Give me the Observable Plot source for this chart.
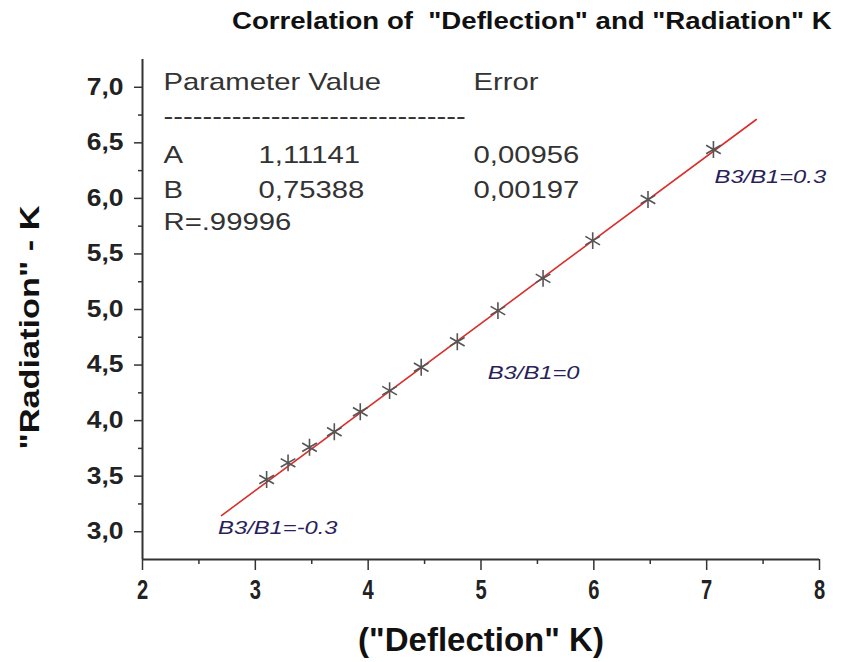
<!DOCTYPE html>
<html>
<head>
<meta charset="utf-8">
<script src="https://cdn.jsdelivr.net/npm/d3@7"></script>
<script src="https://cdn.jsdelivr.net/npm/@observablehq/plot@0.6"></script>
<style>
  body { margin: 0; background: #fff; }
  #wrap { width: 858px; height: 662px; position: relative; overflow: hidden; }
  #title { position: absolute; left: 232px; top: 7px; transform: scaleX(1.15); transform-origin: left center;
           font-family: "Liberation Sans", Arial, sans-serif; font-weight: bold; font-size: 24px; color: #111; white-space: pre; }
  #chart { position: absolute; left: 0; top: 44px; }
</style>
</head>
<body>
<div id="wrap">
  <div id="title">Correlation of  "Deflection" and "Radiation" K</div>
  <div id="chart"></div>
</div>
<script>
// Measured data points (Deflection K, Radiation K)
const deflection = [3.10, 3.29, 3.48, 3.70, 3.93, 4.19, 4.47, 4.79, 5.15, 5.55, 5.99, 6.48, 7.06];
const radiation  = [3.47, 3.62, 3.76, 3.90, 4.08, 4.27, 4.48, 4.71, 4.99, 5.28, 5.62, 5.99, 6.44];
// Linear fit line end points
const fitX = [2.70, 7.44];
const fitY = [3.145, 6.71];
// Fit table text
const tableHeader = ["Parameter Value", "Error"];
const tableRule = "-------------------------------";
const paramNames = ["A", "B"];
const paramValues = ["1,11141", "0,75388"];
const paramErrors = ["0,00956", "0,00197"];
const rText = "R=.99996";
// Annotations
const annLabels = ["B3/B1=0.3", "B3/B1=0", "B3/B1=-0.3"];
const annX = [7.07, 5.06, 2.67];
const annY = [6.19, 4.43, 3.03];
// Ticks
const xTicks = [2, 3, 4, 5, 6, 7, 8];
const xMinor = [2.5, 3.5, 4.5, 5.5, 6.5, 7.5];
const yTicks = [3.0, 3.5, 4.0, 4.5, 5.0, 5.5, 6.0, 6.5, 7.0];
const yMinor = [3.25, 3.75, 4.25, 4.75, 5.25, 5.75, 6.25, 6.75];

const points = deflection.map((d, i) => ({x: d, y: radiation[i]}));
const fit = fitX.map((d, i) => ({x: d, y: fitY[i]}));
const anns = annLabels.map((t, i) => ({t, x: annX[i], y: annY[i]}));

const textFont = `"Liberation Sans", Arial, sans-serif`;
const fmtY = d => d.toFixed(1).replace(".", ",");

// table rows: [text, dx, dy]
const tableItems = [
  [tableHeader[0], 21, 23], [tableHeader[1], 331, 23],
  [tableRule, 21, 57],
  [paramNames[0], 21, 96], [paramValues[0], 116, 96], [paramErrors[0], 331, 96],
  [paramNames[1], 21, 131], [paramValues[1], 116, 131], [paramErrors[1], 331, 131],
  [rText, 21, 163]
];
const tableMarks = tableItems.map(([t, dx, dy]) =>
  Plot.text([t], {frameAnchor: "top-left", dx, dy, lineAnchor: "middle", textAnchor: "start",
    fontSize: 24, fill: "#333", className: "tbl"}));

const chart = Plot.plot({
  width: 858,
  height: 618,
  marginLeft: 142,
  marginRight: 39,
  marginTop: 15,
  marginBottom: 103,
  style: {fontFamily: textFont, background: "#fff"},
  x: {domain: [2, 8]},
  y: {domain: [2.75, 7.25]},
  marks: [
    // minor ticks
    Plot.axisX({ticks: xMinor, tickSize: 5, tickFormat: () => "", label: null, stroke: "#333", strokeWidth: 1.5}),
    Plot.axisY({ticks: yMinor, tickSize: 4, tickFormat: () => "", label: null, stroke: "#333", strokeWidth: 1.5}),
    // major ticks and labels
    Plot.axisX({ticks: xTicks, tickSize: 11, tickPadding: 9, tickFormat: d => String(d), label: null,
      fontSize: 28, fontWeight: "bold", color: "#222", stroke: "#333", strokeWidth: 1.5, className: "xticks"}),
    Plot.axisY({ticks: yTicks, tickSize: 8, tickPadding: 11, tickFormat: fmtY, label: null,
      fontSize: 23, fontWeight: "bold", color: "#222", stroke: "#333", strokeWidth: 1.5, className: "yticks"}),
    // axis lines
    Plot.ruleX([2], {stroke: "#333", strokeWidth: 2}),
    Plot.ruleY([2.75], {stroke: "#333", strokeWidth: 2}),
    // axis titles
    Plot.text(["(\"Deflection\" K)"], {frameAnchor: "bottom", dy: 81, lineAnchor: "middle", textAnchor: "middle",
      fontSize: 33, fontWeight: "bold", fill: "#111"}),
    Plot.text(["\"Radiation\" - K"], {frameAnchor: "left", dx: -112, dy: 18, rotate: -90, textAnchor: "middle",
      lineAnchor: "middle", fontSize: 27, fontWeight: "bold", fill: "#111", className: "ylab"}),
    // fit line
    Plot.line(fit, {x: "x", y: "y", stroke: "#d8302c", strokeWidth: 1.6}),
    // data points
    Plot.dot(points, {x: "x", y: "y", symbol: "asterisk", r: 8, stroke: "#555", strokeWidth: 1.6}),
    // annotations
    Plot.text(anns, {x: "x", y: "y", text: "t", textAnchor: "start", lineAnchor: "middle", fontSize: 18,
      fontStyle: "italic", fill: "#2a1f5a", className: "ann"}),
    ...tableMarks
  ]
});
// horizontal stretch of text, as in the reference
function stretch(sel, s) {
  d3.select(chart).selectAll(sel).each(function() {
    const t = this.getAttribute("transform") || "";
    this.setAttribute("transform", t + ` scale(${s},1)`);
  });
}
stretch(".ann text", 1.32);
stretch(".tbl text", 1.22);
stretch(".ylab text", 1.27);
stretch(".yticks text", 1.15);
stretch(".xticks text", 0.72);
document.getElementById("chart").appendChild(chart);
</script>
</body>
</html>
